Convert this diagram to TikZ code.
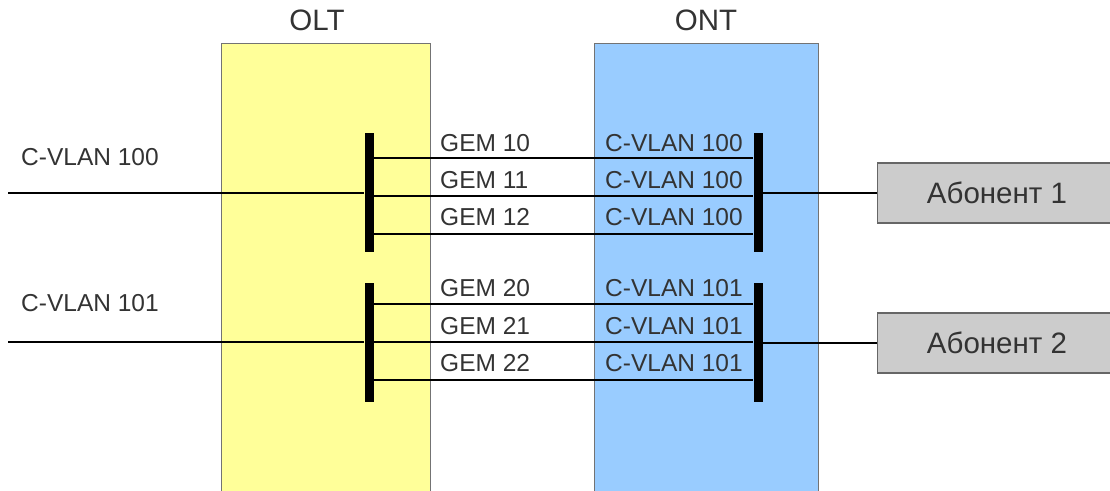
\documentclass[tikz,border=0pt]{standalone}
\usepackage{fontspec}
\setmainfont{Liberation Sans}
\begin{document}
\begin{tikzpicture}[x=1pt,y=-1pt,
  unitbox/.style={draw=black!55,line width=1.2pt,inner sep=0,anchor=north west},
  bar/.style={fill=black,inner sep=0,minimum width=9pt,minimum height=119pt},
  wire/.style={line width=2.2pt,black},
  lbl/.style={text=black!80,inner sep=0,font=\fontsize{24.5}{27}\selectfont},
  big/.style={text=black!80,inner sep=0,font=\fontsize{29.5}{32}\selectfont},
  subbox/.style={draw=black!60,fill=black!20,line width=1.2pt,inner sep=0,minimum width=240pt,minimum height=60pt,anchor=west}]
\useasboundingbox (0,0) rectangle (1110,490);
% unit boxes
\node[unitbox,fill={rgb,255:red,255;green,255;blue,153},minimum width=209pt,minimum height=470pt] (oltbox) at (221,43) {};
\node[unitbox,fill={rgb,255:red,153;green,204;blue,255},minimum width=224pt,minimum height=470pt] (ontbox) at (594,43) {};
\node[big] (oltlbl) at (317,20) {OLT};
\node[big] (ontlbl) at (706,20) {ONT};
% bars
\node[bar] (b1) at (369,192.5) {};
\node[bar] (c1) at (758,192.5) {};
\node[bar] (b2) at (369,342.5) {};
\node[bar] (c2) at (758,342.5) {};
% subscriber boxes
\node[subbox] (ab1) at (877,193) {};
\node[subbox] (ab2) at (877,343) {};
\node[big] (ab1t) at (997,193) {Абонент 1};
\node[big] (ab2t) at (997,343) {Абонент 2};
% wires group 1
\draw[wire] ([yshift=34.5pt]b1.east) -- ([yshift=34.5pt]c1.west);
\draw[wire] ([yshift=-3.5pt]b1.east) -- ([yshift=-3.5pt]c1.west);
\draw[wire] ([yshift=-41.5pt]b1.east) -- ([yshift=-41.5pt]c1.west);
\coordinate (in1) at (8,193);
\draw[wire] (in1) -- (in1 -| b1.west);
\draw[wire] (c1.east |- ab1.west) -- (ab1.west);
% wires group 2
\draw[wire] ([yshift=38.5pt]b2.east) -- ([yshift=38.5pt]c2.west);
\draw[wire] ([yshift=0.5pt]b2.east) -- ([yshift=0.5pt]c2.west);
\draw[wire] ([yshift=-37.5pt]b2.east) -- ([yshift=-37.5pt]c2.west);
\coordinate (in2) at (8,342);
\draw[wire] (in2) -- (in2 -| b2.west);
\draw[wire] (c2.east |- ab2.west) -- (ab2.west);
% labels
\node[lbl,anchor=west] (v100) at (21,157) {C-VLAN 100};
\node[lbl,anchor=west] (v101) at (21,303) {C-VLAN 101};
\node[lbl,anchor=west] (g10) at (440,143) {GEM 10};
\node[lbl,anchor=west] (g11) at (440,180) {GEM 11};
\node[lbl,anchor=west] (g12) at (440,217) {GEM 12};
\node[lbl,anchor=west] (g20) at (440,288) {GEM 20};
\node[lbl,anchor=west] (g21) at (440,326) {GEM 21};
\node[lbl,anchor=west] (g22) at (440,363) {GEM 22};
\node[lbl,anchor=west] (o1) at (605,143) {C-VLAN 100};
\node[lbl,anchor=west] (o2) at (605,180) {C-VLAN 100};
\node[lbl,anchor=west] (o3) at (605,217) {C-VLAN 100};
\node[lbl,anchor=west] (o4) at (605,288) {C-VLAN 101};
\node[lbl,anchor=west] (o5) at (605,326) {C-VLAN 101};
\node[lbl,anchor=west] (o6) at (605,363) {C-VLAN 101};
\end{tikzpicture}
\end{document}
